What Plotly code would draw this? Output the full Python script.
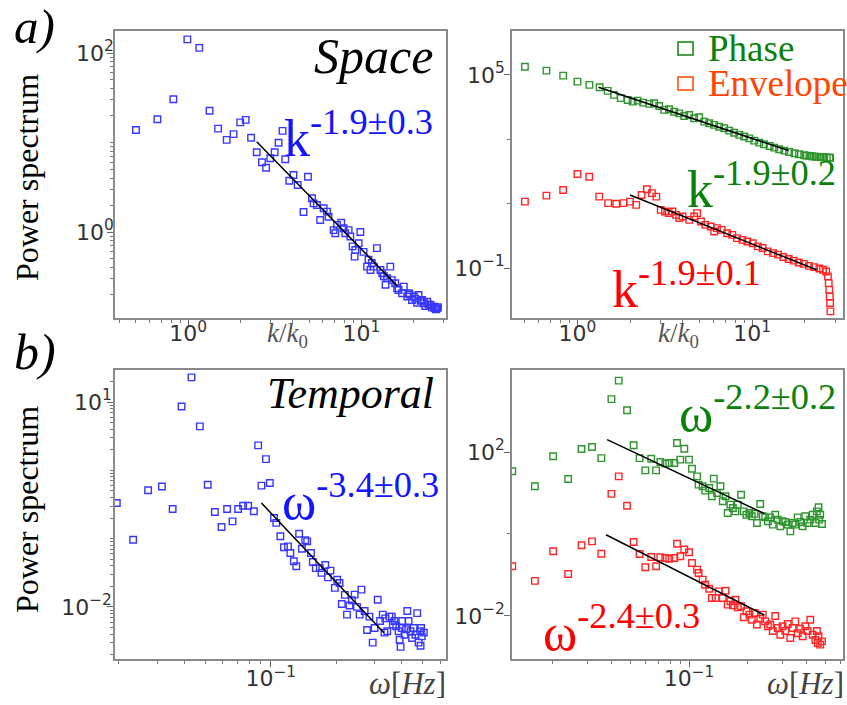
import plotly.graph_objects as go

W, H = 847, 705
SERIF = "'Liberation Serif', 'Times New Roman', Times, 'Nimbus Roman', 'DejaVu Serif', serif"
SANS = "'DejaVu Sans', Verdana, sans-serif"

# ---------------- data ----------------
# (a) left: spatial spectrum
space_k = [0.50, 0.665, 0.822, 0.99, 1.16, 1.33, 1.49, 1.67, 1.83, 2.0, 2.15, 2.31, 2.49, 2.67, 2.82,
           2.98, 3.16, 3.33, 3.51, 3.64, 3.84, 4.06, 4.29, 4.64, 4.92, 5.19, 5.30, 5.54, 5.79, 6.06,
           6.34, 6.47, 6.92, 7.08, 7.24, 7.66, 7.9, 8.08, 8.45, 8.64, 8.91, 9.15, 9.23, 9.65, 9.87,
           10.3, 10.8, 11.0, 11.3, 11.5, 11.8, 12.3, 12.9, 13.2, 13.5, 13.8, 14.1, 14.7, 15.0, 15.7,
           16.1, 16.4, 17.2, 17.6, 18.4, 18.8, 19.0, 19.6, 20.1, 20.5, 21.0, 21.4, 22.0, 22.4, 23.0,
           23.4, 24.0, 24.5, 25.1, 25.6, 26.2, 26.6, 27.0, 27.4, 27.7]
space_P = [13.8, 18.2, 30.4, 142, 114, 22.6, 14.3, 10.7, 12.4, 16.8, 17.9, 11.3, 7.77, 6.01, 5.23,
           6.66, 7.77, 9.95, 13.5, 6.49, 3.74, 4.33, 3.35, 1.67, 4.15, 2.38, 2.09, 2.0, 1.36, 1.84,
           1.69, 1.48, 1.05, 0.97, 1.2, 1.27, 1.1, 0.97, 1.05, 0.89, 0.69, 0.53, 0.63, 0.75, 1.0,
           0.60, 0.41, 0.49, 0.376, 0.45, 0.41, 0.66, 0.376, 0.346, 0.32, 0.257, 0.304, 0.41, 0.29, 0.267,
           0.235, 0.225, 0.207, 0.245, 0.19, 0.207, 0.2, 0.174, 0.19, 0.18, 0.162, 0.198, 0.17, 0.174, 0.16,
           0.149, 0.166, 0.155, 0.153, 0.143, 0.146, 0.14, 0.137, 0.14, 0.144]
space_fit_k = [2.49, 16.1]
space_fit_P = [10.2, 0.25]

# (a) right: phase and envelope spatial spectra
phase_k = [0.50, 0.664, 0.828, 1.0, 1.17, 1.34, 1.49, 1.62, 1.77, 1.94, 2.07, 2.21, 2.38, 2.58, 2.75,
           2.94, 3.14, 3.35, 3.58, 3.83, 4.09, 4.37, 4.66, 4.98, 5.32, 5.68, 6.07, 6.48, 6.93, 7.40,
           7.90, 8.45, 9.02, 9.64, 10.3, 11.0, 11.7, 12.6, 13.4, 14.3, 15.3, 16.3, 17.5, 18.6, 19.9,
           20.6, 21.3, 22.0, 22.7, 23.5, 24.3, 25.1, 25.9, 26.8, 27.7, 28.0]
phase_P = [1.8e5, 1.36e5, 9.5e4, 6.2e4, 4.9e4, 4.15e4, 3.2e4, 2.4e4, 1.9e4, 1.67e4, 1.48e4, 1.59e4, 1.38e4, 1.26e4, 1.32e4,
           1.09e4, 8.2e3, 8.6e3, 7.2e3, 6.4e3, 5.3e3, 5.7e3, 4.5e3, 4.85e3, 3.55e3, 3.16e3, 2.8e3, 2.47e3, 2.2e3, 1.86e3,
           1.6e3, 1.37e3, 1.22e3, 1.07e3, 910, 790, 700, 620, 550, 490, 445, 405, 370, 345, 320,
           312, 305, 298, 290, 288, 285, 282, 279, 275, 270, 268]
phase_fit_k = [1.32, 16.2]
phase_fit_P = [4.17e4, 447]

env_k = [0.5, 0.664, 0.828, 1.0, 1.167, 1.333, 1.5, 1.667, 1.833, 2.0, 2.17, 2.33, 2.5, 2.67, 2.83,
         3.0, 3.17, 3.33, 3.5, 3.67, 3.83, 4.0, 4.37, 4.66, 4.85, 5.1, 5.4, 5.8, 6.07, 6.3,
         6.7, 7.2, 7.7, 8.2, 8.8, 9.4, 10.1, 10.8, 11.5, 12.3, 13.2, 14.1, 15.1, 16.2, 17.3,
         18.5, 19.8, 21.2, 22.7, 24.3, 25.5, 26.6, 27.2, 27.5, 27.7, 27.9, 28.0, 28.1]
env_P = [11.6, 17.8, 26.7, 84, 69, 16.6, 10.4, 9.9, 10.4, 11.6, 9.2, 18.6, 28, 21.2, 16.6,
         6.4, 5.7, 5.1, 5.7, 4.5, 3.55, 4.0, 3.14, 4.0, 5.1, 2.8, 2.2, 1.95, 1.36, 1.74,
         1.53, 1.21, 1.07, 0.85, 0.75, 0.67, 0.59, 0.47, 0.42, 0.33, 0.29, 0.26, 0.22, 0.19, 0.17,
         0.148, 0.135, 0.117, 0.107, 0.097, 0.088, 0.078, 0.055, 0.034, 0.021, 0.013, 0.0082, 0.0045]
env_fit_k = [2.0, 23.4]
env_fit_P = [18.6, 0.088]

# (b) left: temporal spectrum
temp_w = [0.0196, 0.0233, 0.0273, 0.0316, 0.0354, 0.0389, 0.0432, 0.0472, 0.0513, 0.0553, 0.0594, 0.063,
          0.0667, 0.0708, 0.0746, 0.0787, 0.0836, 0.0875, 0.0906, 0.095, 0.099, 0.1035, 0.106, 0.1107,
          0.115, 0.12, 0.123, 0.1276, 0.131, 0.135, 0.139, 0.144, 0.147, 0.153, 0.156, 0.161, 0.168,
          0.171, 0.178, 0.183, 0.188, 0.197, 0.202, 0.207, 0.212, 0.219, 0.224, 0.23, 0.236, 0.243,
          0.249, 0.256, 0.261, 0.27, 0.277, 0.284, 0.294, 0.3, 0.31, 0.318, 0.327, 0.333, 0.336,
          0.343, 0.351, 0.36, 0.364, 0.37, 0.377, 0.387, 0.391, 0.395, 0.4, 0.402, 0.412, 0.419,
          0.424, 0.43, 0.439, 0.446, 0.454, 0.462, 0.471, 0.478, 0.486, 0.488, 0.491, 0.494, 0.505]
temp_P = [0.332, 0.0964, 0.51, 0.58, 0.271, 8.6, 23, 4.4, 0.616, 0.245, 0.148, 0.271,
          0.179, 0.271, 0.303, 0.303, 0.251, 2.32, 0.596, 1.46, 0.652, 0.2, 0.17, 0.108,
          0.0746, 0.077, 0.0615, 0.0466, 0.0393, 0.118, 0.071, 0.0944, 0.091, 0.0615, 0.0454, 0.037, 0.037,
          0.0315, 0.041, 0.0271, 0.034, 0.019, 0.025, 0.0224, 0.011, 0.015, 0.0077, 0.0105, 0.0125, 0.0151,
          0.01, 0.0077, 0.0179, 0.0087, 0.0046, 0.0072, 0.003, 0.0049, 0.0127, 0.0062, 0.0077, 0.0042, 0.0068,
          0.0044, 0.0072, 0.0072, 0.0055, 0.0062, 0.0052, 0.0044, 0.0033, 0.0026, 0.0049, 0.0062, 0.0039, 0.0047,
          0.0087, 0.0062, 0.0044, 0.0035, 0.0049, 0.0039, 0.0081, 0.003, 0.0044, 0.0027, 0.0049, 0.0037, 0.0042]
temp_fit_w = [0.0906, 0.331]
temp_fit_P = [0.332, 0.00417]

# (b) right: phase and envelope temporal spectra
tphase_w = [0.0124, 0.0162, 0.0201, 0.024, 0.0281, 0.0318, 0.0355, 0.04, 0.0436, 0.0481, 0.052, 0.0558,
            0.0597, 0.064, 0.0678, 0.0713, 0.0756, 0.0792, 0.0841, 0.0868, 0.0902, 0.0946, 0.1, 0.1036,
            0.11, 0.112, 0.1175, 0.121, 0.127, 0.131, 0.134, 0.139, 0.145, 0.149, 0.154, 0.158, 0.163,
            0.168, 0.173, 0.178, 0.185, 0.191, 0.197, 0.204, 0.21, 0.217, 0.223, 0.232, 0.239, 0.246,
            0.254, 0.261, 0.269, 0.277, 0.285, 0.294, 0.302, 0.312, 0.321, 0.331, 0.34, 0.351, 0.361,
            0.372, 0.383, 0.395, 0.406, 0.419, 0.431, 0.445, 0.453, 0.462, 0.465, 0.471, 0.481]
tphase_P = [34, 14.6, 78.5, 21.9, 118, 132, 71, 1950, 5500, 1040, 146, 71,
            35.7, 68.7, 35.7, 57, 52, 54, 54, 166, 65, 120, 65, 39,
            25.5, 16, 14.6, 11.4, 13.2, 8.3, 22.4, 10, 14.6, 6.27, 8.3, 3.25, 5.2,
            4.3, 3.57, 5.2, 9.1, 3.57, 2.95, 3.25, 2.7, 3.1, 1.85, 5.4, 2.7, 2.55,
            2.04, 2.55, 1.69, 2.95, 2.24, 1.54, 2.04, 1.96, 1.69, 1.16, 1.85, 1.69, 2.55,
            1.96, 1.54, 2.7, 1.85, 2.24, 2.95, 1.85, 3.57, 4.48, 2.24, 2.95, 1.75]
tphase_fit_w = [0.038, 0.244]
tphase_fit_P = [200, 3.13]

tenv_w = [0.0124, 0.0162, 0.0201, 0.024, 0.0281, 0.0318, 0.0355, 0.04, 0.0436, 0.0481, 0.052, 0.0558,
          0.0597, 0.064, 0.0678, 0.0713, 0.0756, 0.0792, 0.0841, 0.0868, 0.0902, 0.0946, 0.1, 0.1036,
          0.11, 0.112, 0.1175, 0.121, 0.127, 0.131, 0.137, 0.142, 0.149, 0.154, 0.158, 0.163, 0.168,
          0.173, 0.178, 0.185, 0.191, 0.197, 0.204, 0.21, 0.217, 0.223, 0.232, 0.239, 0.246, 0.254,
          0.261, 0.269, 0.277, 0.285, 0.294, 0.302, 0.312, 0.321, 0.331, 0.34, 0.351, 0.361, 0.372,
          0.383, 0.395, 0.406, 0.419, 0.431, 0.445, 0.453, 0.458, 0.462, 0.471, 0.481]
tenv_P = [0.163, 0.072, 0.378, 0.106, 0.53, 0.66, 0.33, 9.5, 25.5, 4.9, 0.64, 0.325,
          0.154, 0.275, 0.163, 0.27, 0.26, 0.25, 0.26, 0.58, 0.286, 0.417, 0.358, 0.196,
          0.135, 0.112, 0.077, 0.058, 0.046, 0.0275, 0.0275, 0.0398, 0.0275, 0.0414, 0.0189, 0.0229, 0.0182,
          0.025, 0.0162, 0.0174, 0.0093, 0.013, 0.0108, 0.0081, 0.0118, 0.0062, 0.0086, 0.0108, 0.0074, 0.0056,
          0.0062, 0.0043, 0.01, 0.0051, 0.0035, 0.0056, 0.0043, 0.0064, 0.0029, 0.0051, 0.0074, 0.0038, 0.0049,
          0.0032, 0.0056, 0.0043, 0.0081, 0.0035, 0.0026, 0.0043, 0.0022, 0.0032, 0.002, 0.0024]
tenv_fit_w = [0.0375, 0.244]
tenv_fit_P = [0.96, 0.0105]

# ---------------- figure ----------------
BLUE = "rgb(20,20,255)"
GREEN = "rgb(10,130,10)"
RED = "rgb(255,0,0)"
ORANGE = "rgb(255,69,0)"

fig = go.Figure()


def scat(x, y, color, ax):
    fig.add_trace(go.Scatter(x=x, y=y, mode="markers", xaxis="x" + ax, yaxis="y" + ax,
                             marker=dict(symbol="square-open", size=6.5, color=color,
                                         line=dict(width=1.4, color=color)),
                             opacity=0.85, showlegend=False, hoverinfo="skip"))


def fit(x, y, ax):
    fig.add_trace(go.Scatter(x=x, y=y, mode="lines", xaxis="x" + ax, yaxis="y" + ax,
                             line=dict(color="black", width=1.5), showlegend=False, hoverinfo="skip"))


scat(space_k, space_P, BLUE, "")
fit(space_fit_k, space_fit_P, "")
scat(phase_k, phase_P, GREEN, "2")
scat(env_k, env_P, RED, "2")
fit(phase_fit_k, phase_fit_P, "2")
fit(env_fit_k, env_fit_P, "2")
scat(temp_w, temp_P, BLUE, "3")
fit(temp_fit_w, temp_fit_P, "3")
scat(tphase_w, tphase_P, GREEN, "4")
scat(tenv_w, tenv_P, RED, "4")
fit(tphase_fit_w, tphase_fit_P, "4")
fit(tenv_fit_w, tenv_fit_P, "4")


def sup(e):
    return "10<sup>" + str(e).replace("-", "\u2212") + "</sup>"


def decade_minor(exps, mults):
    return [m * 10 ** e for e in exps for m in mults]


def axis(domain, rng, tickvals, ticktext, minor_vals, anchor, standoff):
    d = dict(type="log", domain=domain, range=rng, anchor=anchor,
             showgrid=False, zeroline=False, showline=True, linecolor="#8a8a8a", linewidth=1.5,
             mirror=True, ticks="outside", ticklen=6, tickwidth=1, tickcolor="#666",
             tickvals=tickvals, ticktext=ticktext, ticklabelstandoff=standoff,
             tickfont=dict(family=SANS, size=22, color="#333"))
    if minor_vals:
        d["minor"] = dict(tickmode="array", tickvals=minor_vals, ticks="outside", ticklen=3.5,
                          tickwidth=1, tickcolor="#777", showgrid=False)
    return d


XL = [115 / W, 445.5 / W]
XR = [512 / W, 843 / W]
YT = [1 - 318 / H, 1 - 31 / H]
YB = [1 - 659 / H, 1 - 370 / H]

k_minor = [0.4, 0.5, 0.6, 0.7, 0.8, 0.9, 2, 3, 4, 5, 6, 7, 8, 9, 20, 30]
w_minor = [0.02, 0.03, 0.04, 0.05, 0.06, 0.07, 0.08, 0.09, 0.2, 0.3, 0.4, 0.5, 0.6]
M = [2, 3, 4, 5, 6, 7, 8, 9]

fig.update_layout(
    xaxis=axis(XL, [-0.422, 1.486], [1, 10], [sup(0), sup(1)], k_minor, "y", -11),
    yaxis=axis(YT, [-0.961, 2.246], [1, 100], [sup(0), sup(2)],
               decade_minor([-1, 0, 1], M) + [0.1, 10], "x", -11),
    xaxis2=axis(XR, [-0.375, 1.521], [1, 10], [sup(0), sup(1)], k_minor, "y2", -11),
    yaxis2=axis(YT, [-2.553, 6.366], [0.1, 1e5], [sup(-1), sup(5)], [10, 1000], "x2", -5),
    xaxis3=axis(XL, [-1.716, -0.197], [0.1], [sup(-1)], w_minor, "y3", -7),
    yaxis3=axis(YB, [-2.763, 1.469], [0.01, 10], [sup(-2), sup(1)],
                decade_minor([-3, -2, -1, 0, 1], M) + [0.1, 1], "x3", -9),
    xaxis4=axis(XR, [-1.908, -0.21], [0.1], [sup(-1)], w_minor, "y4", -7),
    yaxis4=axis(YB, [-3.049, 4.0], [0.01, 100], [sup(-2), sup(2)], [1], "x4", -5),
)

annotations = []


def text(t, x, base, size, color="black", xanchor="left", family=SERIF):
    y = base + 0.216 * size + 1
    annotations.append(dict(text=t, x=x / W, y=1 - y / H, xref="paper", yref="paper",
                            xanchor=xanchor, yanchor="bottom", showarrow=False,
                            font=dict(family=family, size=size, color=color)))


# panel letters and titles
text("<i>a)</i>", 12, 44, 49)
text("<i>b)</i>", 12, 370, 50)
text("<i>Space</i>", 435, 74, 50, xanchor="right")
text("<i>Temporal</i>", 436, 409, 44, xanchor="right")

# power-law labels
text("k<sup>-1.9\u00b10.3</sup>", 435, 157, 52, BLUE, "right")
text("k<sup>-1.9\u00b10.2</sup>", 838, 208, 52, GREEN, "right")
text("k<sup>-1.9\u00b10.1</sup>", 610, 308, 52, RED, "left")
text("\u03c9<sup>-3.4\u00b10.3</sup>", 441, 520, 52, BLUE, "right")
text("\u03c9<sup>-2.2\u00b10.2</sup>", 838, 432, 52, GREEN, "right")
text("\u03c9<sup>-2.4\u00b10.3</sup>", 541, 651, 52, RED, "left")

# legend text
text("Phase", 706, 62, 37, GREEN)
text("Envelope", 706, 97, 37, ORANGE)

# axis titles
text("<i>k</i>/<i>k</i><sub>0</sub>", 287, 347, 27, "#555", "center")
text("<i>k</i>/<i>k</i><sub>0</sub>", 678, 347, 27, "#555", "center")
text("<i>\u03c9</i>[<i>Hz</i>]", 448, 695, 31, "#444", "right")
text("<i>\u03c9</i>[<i>Hz</i>]", 846, 695, 31, "#444", "right")

for cy in (178, 510):
    annotations.append(dict(text="Power spectrum", x=27 / W, y=1 - cy / H, xref="paper", yref="paper",
                            xanchor="center", yanchor="middle", textangle=-90, showarrow=False,
                            font=dict(family=SERIF, size=32, color="black")))

shapes = []
for (y0, y1, c) in ((42, 55, GREEN), (77, 90, ORANGE)):
    shapes.append(dict(type="rect", xref="paper", yref="paper", x0=678 / W, x1=693 / W,
                       y0=1 - y1 / H, y1=1 - y0 / H, line=dict(color=c, width=1.5)))

fig.update_layout(annotations=annotations, shapes=shapes, width=W, height=H,
                  margin=dict(l=0, r=0, t=0, b=0), paper_bgcolor="white", plot_bgcolor="white",
                  showlegend=False)

fig.write_html("out.html")
